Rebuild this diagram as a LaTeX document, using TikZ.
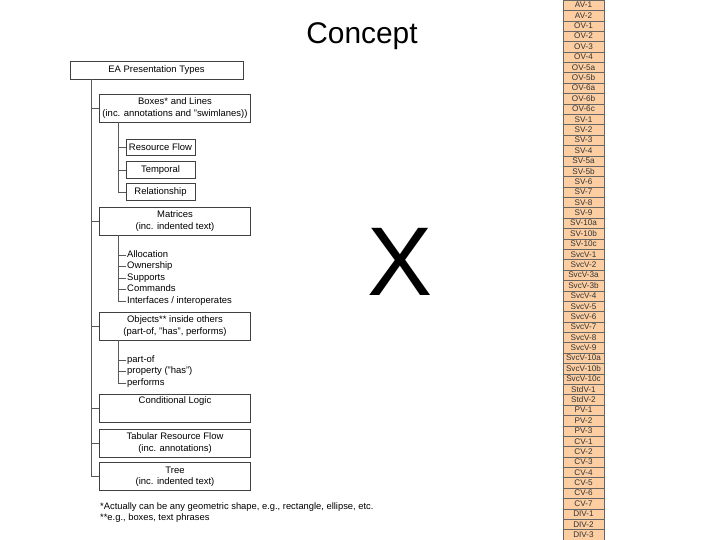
\documentclass[tikz,border=0pt]{standalone}
\usepackage{fontspec}
\setmainfont{Liberation Sans}
\definecolor{peach}{RGB}{252,206,162}
\begin{document}
\begin{tikzpicture}[x=1bp,y=-1bp,
  box/.style={draw=black!75, line width=0.6bp, fill=white, inner sep=0pt, align=center,
    font=\fontsize{9.5}{11.5}\selectfont},
  bigbox/.style={box, minimum width=151bp, minimum height=28bp},
  smallbox/.style={box, minimum width=69bp, minimum height=16.5bp},
  item/.style={anchor=west, inner sep=1pt, text height=6.8bp, text depth=2bp,
    font=\fontsize{9.5}{11.5}\selectfont},
  cell/.style={draw=black!60, line width=0.5bp, fill=peach, minimum width=41bp,
    minimum height=10.385bp, inner sep=0pt, text height=5.9bp, text depth=0.6bp,
    text=black!80, font=\fontsize{8.2}{8.5}\selectfont},
  tree/.style={draw=black!65, line width=0.6bp},
  note/.style={anchor=west, inner sep=0pt, font=\fontsize{9.4}{11}\selectfont}]
\useasboundingbox (0,0) rectangle (720,540);

% title and X
\node[font=\fontsize{30}{34}\selectfont] (title) at (362,36) {Concept};
\node[font=\fontsize{98}{100}\selectfont] (xmark) at (400,262) {X};

% top box
\node[box, minimum width=173bp, minimum height=18bp] (ea) at (156.5,70) {EA Presentation Types};

% main boxes
\node[bigbox] (boxes) at (175,108) {Boxes* and Lines\\(inc. annotations and "swimlanes))};
\node[smallbox] (rf) at (160.5,147.5) {Resource Flow};
\node[smallbox] (temp) at (160.5,170) {Temporal};
\node[smallbox] (rel) at (160.5,192) {Relationship};

\node[bigbox] (mat) at (175,221) {Matrices\\(inc. indented text)};
\node[item] (alloc) at (126,255) {Allocation};
\node[item] (own) at (126,266.5) {Ownership};
\node[item] (supp) at (126,278) {Supports};
\node[item] (comm) at (126,289.5) {Commands};
\node[item] (intf) at (126,301) {Interfaces / interoperates};

\node[bigbox] (obj) at (175,326) {Objects** inside others\\(part-of, "has", performs)};
\node[item] (partof) at (126,360) {part-of};
\node[item] (prop) at (126,371.5) {property ("has")};
\node[item] (perf) at (126,383) {performs};

\node[bigbox] (cond) at (175,408) {Conditional Logic\\\strut};
\node[bigbox] (tab) at (175,443) {Tabular Resource Flow\\(inc. annotations)};
\node[bigbox] (treebox) at (175,476.5) {Tree\\(inc. indented text)};

% trunk
\draw[tree] (ea.south west) ++(22,0) |- (treebox.west);
\foreach \n in {boxes,mat,obj,cond,tab} \draw[tree] (\n.west) -- ++(-7,0);

% sub trees
\draw[tree] (boxes.south west) ++(19,0) |- (rel.west);
\foreach \n in {rf,temp} \draw[tree] (\n.west) -- ++(-7.5,0);
\draw[tree] (mat.south west) ++(19,0) |- (intf.west);
\foreach \n in {alloc,own,supp,comm} \draw[tree] (\n.west) -- ++(-8,0);
\draw[tree] (obj.south west) ++(19,0) |- (perf.west);
\foreach \n in {partof,prop} \draw[tree] (\n.west) -- ++(-8,0);

% footnotes
\node[note] (fn1) at (100,507) {*Actually can be any geometric shape, e.g., rectangle, ellipse, etc.};
\node[note] (fn2) at (100,518.5) {**e.g., boxes, text phrases};

% right column
\foreach \t [count=\i] in {AV-1,AV-2,OV-1,OV-2,OV-3,OV-4,OV-5a,OV-5b,OV-6a,OV-6b,OV-6c,
  SV-1,SV-2,SV-3,SV-4,SV-5a,SV-5b,SV-6,SV-7,SV-8,SV-9,SV-10a,SV-10b,SV-10c,
  SvcV-1,SvcV-2,SvcV-3a,SvcV-3b,SvcV-4,SvcV-5,SvcV-6,SvcV-7,SvcV-8,SvcV-9,SvcV-10a,SvcV-10b,SvcV-10c,
  StdV-1,StdV-2,PV-1,PV-2,PV-3,CV-1,CV-2,CV-3,CV-4,CV-5,CV-6,CV-7,DIV-1,DIV-2,DIV-3}
  \node[cell] (v\i) at (583.5,{(\i-0.5)*10.385}) {\t};
\end{tikzpicture}
\end{document}
